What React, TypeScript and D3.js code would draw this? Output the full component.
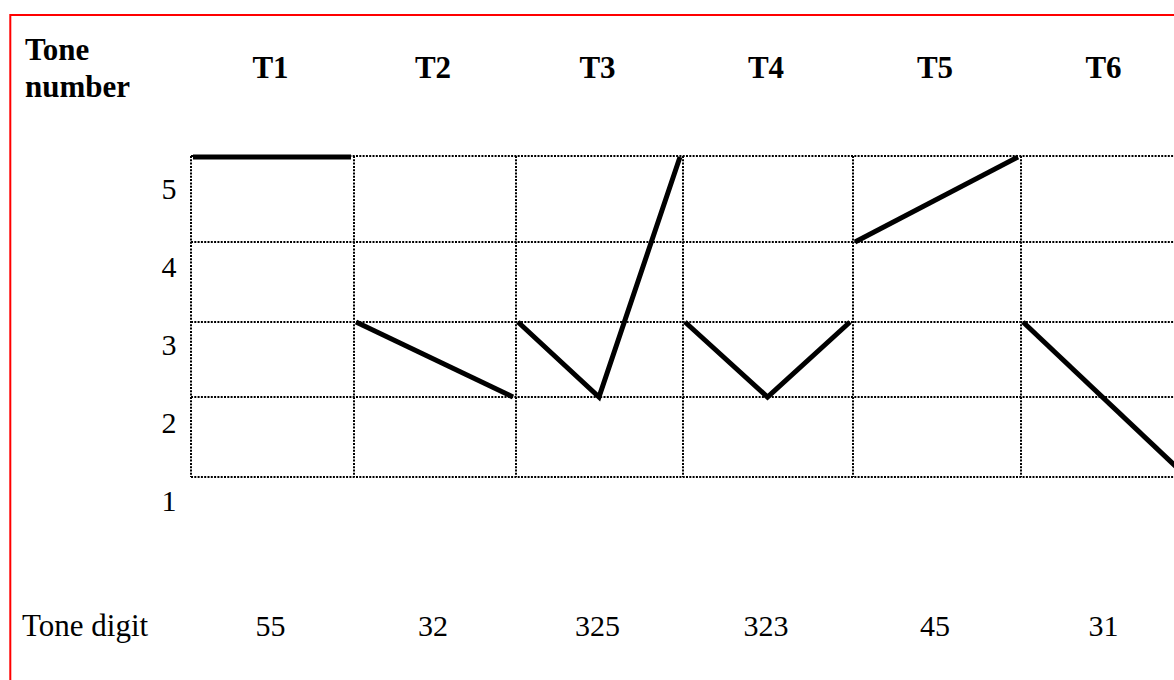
import * as d3 from 'd3';

// Tone chart data
const tones = ['T1', 'T2', 'T3', 'T4', 'T5', 'T6'];
const toneDigits = ['55', '32', '325', '323', '45', '31'];
const levels = [5, 4, 3, 2, 1];

const width = 1174;
const height = 680;
const font = '"Liberation Serif", "Times New Roman", serif';

// column edges (table cells are not quite even)
const x = d3
  .scaleLinear()
  .domain(d3.range(tones.length + 1))
  .range([191, 354, 516, 683, 853, 1021, 1190]);

// pitch levels onto the grid lines
const y = d3.scaleLinear().domain([1, 2, 3, 4, 5]).range([477, 397, 322, 242, 156]);

// row label baselines
const labelY = d3.scaleLinear().domain([1, 5]).range([511, 199]);

const line = d3
  .line<[number, number]>()
  .x((d) => d[0])
  .y((d) => d[1]);

export default function App() {
  const gridRight = width + 20;
  return (
    <svg
      width={width}
      height={height}
      style={{ position: 'absolute', left: 0, top: 0, background: '#fff' }}
    >
      <rect x={0} y={0} width={width} height={height} fill="#fff" />

      {/* red frame */}
      <rect x={10.3} y={15} width={width + 50} height={height + 50} fill="none" stroke="#ff0000" strokeWidth={2} />

      {/* header */}
      <text x={25} y={60} fontFamily={font} fontWeight="bold" fontSize={31}>
        Tone
      </text>
      <text x={25} y={97} fontFamily={font} fontWeight="bold" fontSize={31}>
        number
      </text>
      {tones.map((t, i) => (
        <text
          key={t}
          x={x(i + 0.5) - 2}
          y={78}
          textAnchor="middle"
          fontFamily={font}
          fontWeight="bold"
          fontSize={31}
        >
          {t}
        </text>
      ))}

      {/* dotted grid */}
      <g stroke="#000" strokeWidth={2} strokeDasharray="2 1.3" fill="none">
        {levels.map((l) => (
          <line key={'h' + l} x1={x(0)} x2={gridRight} y1={y(l)} y2={y(l)} />
        ))}
        {d3.range(tones.length + 1).map((i) => (
          <line key={'v' + i} x1={x(i)} x2={x(i)} y1={y(5)} y2={y(1)} />
        ))}
      </g>

      {/* level labels */}
      {levels.map((l) => (
        <text key={'l' + l} x={169} y={labelY(l)} textAnchor="middle" fontFamily={font} fontSize={30}>
          {l}
        </text>
      ))}

      {/* tone contours */}
      {toneDigits.map((digits, i) => {
        const vals = digits.split('').map(Number);
        const x0 = x(i) + 2;
        const x1 = x(i + 1) - 3;
        const pts: [number, number][] = vals.map((v, j) => [
          x0 + ((x1 - x0) * j) / (vals.length - 1),
          y(v) + (v === 5 ? 1 : 0),
        ]);
        return (
          <path
            key={'c' + i}
            d={line(pts) ?? ''}
            fill="none"
            stroke="#000"
            strokeWidth={5}
            strokeLinejoin="miter"
          />
        );
      })}

      {/* tone digits row */}
      <text x={22} y={636} fontFamily={font} fontSize={31}>
        Tone digit
      </text>
      {toneDigits.map((d, i) => (
        <text
          key={'d' + i}
          x={x(i + 0.5) - 2}
          y={636}
          textAnchor="middle"
          fontFamily={font}
          fontSize={30}
        >
          {d}
        </text>
      ))}
    </svg>
  );
}
